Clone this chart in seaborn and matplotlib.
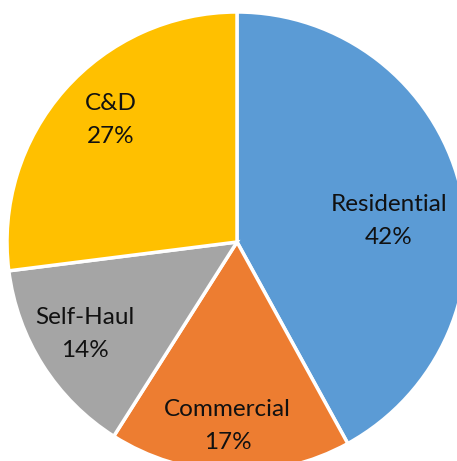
import matplotlib
matplotlib.use("Agg")
import matplotlib.pyplot as plt
import seaborn as sns

sns.set_theme(style="white")
plt.rcParams['font.family'] = ['Lato', 'DejaVu Sans']

categories = ["Residential", "Commercial", "Self-Haul", "C&D"]
values = [42, 17, 14, 27]
colors = ["#5B9BD5", "#ED7D31", "#A5A5A5", "#FFC000"]
# label centres, in units of the pie radius (Excel "best fit" placement)
label_xy = [(0.66, 0.09), (-0.04, -0.80), (-0.66, -0.40), (-0.55, 0.53)]

fig = plt.figure(figsize=(4.57, 4.61), dpi=100)
ax = fig.add_axes([0, 0, 1, 1])
wedges, _ = ax.pie(values, colors=colors, startangle=90, counterclock=False,
                   wedgeprops=dict(edgecolor="white", linewidth=2.5))
for cat, v, (lx, ly) in zip(categories, values, label_xy):
    ax.text(lx, ly, f"{cat}\n{v}%", ha="center", va="center",
            fontsize=17.5, color="#111111", linespacing=1.7)
ax.set_xlim(-237 / 230, 220 / 230)
ax.set_ylim(-219 / 230, 242 / 230)
ax.set_aspect("equal")
ax.axis("off")
fig.savefig("out.png", dpi=100)
